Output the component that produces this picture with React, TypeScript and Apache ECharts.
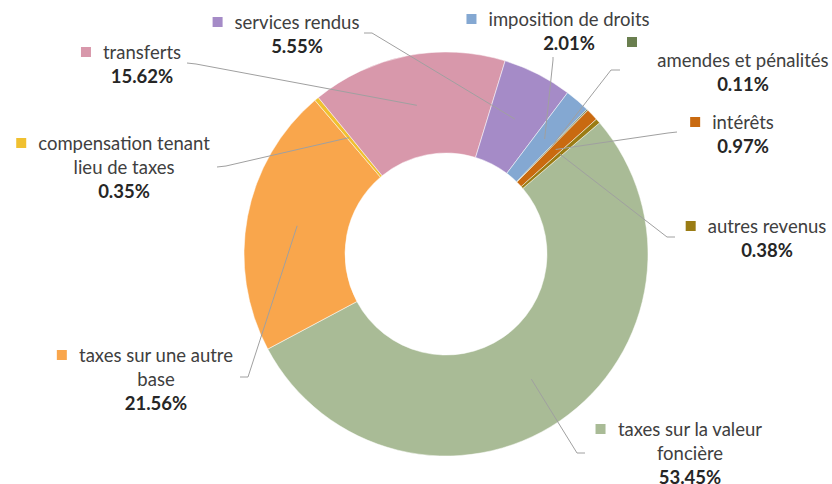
import React, { useEffect, useRef } from "react";
import * as echarts from "echarts";

const categories = [
  "taxes sur la valeur\nfoncière",
  "taxes sur une autre\nbase",
  "compensation tenant\nlieu de taxes",
  "transferts",
  "services rendus",
  "imposition de droits",
  "amendes et pénalités",
  "intérêts",
  "autres revenus",
];
const values = [53.45, 21.56, 0.35, 15.62, 5.55, 2.01, 0.11, 0.97, 0.38];
const colors = [
  "#a9bb96",
  "#f9a64c",
  "#f0c030",
  "#d898ab",
  "#a58bc7",
  "#84a8d2",
  "#6a7f4f",
  "#c96a10",
  "#9a7c14",
];

const CENTER = [446, 254];
const RADII = [101, 202];
const START = 40.5;

// label layout: center x of text, top y, leader line points near label
const labelPos = [
  { cx: 690, top: 417, a: [585, 453], b: [577, 453] },
  { cx: 156, top: 343, a: [240, 377], b: [248, 377] },
  { cx: 124, top: 131, a: [217, 167], b: [226, 166] },
  { cx: 142, top: 40, a: [187, 63], b: [196, 64] },
  { cx: 297, top: 10, a: [364, 33], b: [372, 33] },
  { cx: 569, top: 7, a: [553, 57], b: [553, 60] },
  { cx: 743, top: 36, a: [620, 70], b: [611, 70], markerAbove: true },
  { cx: 743, top: 110, a: [677, 132], b: [668, 133] },
  { cx: 767, top: 214, a: [675, 237], b: [667, 237] },
];

export default function App() {
  const ref = useRef<HTMLDivElement>(null);
  useEffect(() => {
    if (!ref.current) return;
    const chart = echarts.init(ref.current, null, { renderer: "svg" });
    const total = values.reduce((s, v) => s + v, 0);
    const midPoint = (i: number) => {
      let cum = 0;
      for (let k = 0; k < i; k++) cum += values[k];
      const deg = 90 - START + ((cum + values[i] / 2) / total) * 360;
      const rad = (deg * Math.PI) / 180;
      const r = (RADII[0] + RADII[1]) / 2;
      return [CENTER[0] + r * Math.sin(rad), CENTER[1] - r * Math.cos(rad)];
    };
    const FS = 18.5;
    const rich: any = {
      n: { fontSize: FS, color: "#404040", lineHeight: 24, fontFamily: "Lato" },
      p: { fontSize: FS, color: "#262626", lineHeight: 24, fontWeight: "bold", fontFamily: "Lato" },
      gap: { width: 12, fontSize: 10 },
      pad: { width: 22, fontSize: 10 },
      padA: { width: 222, fontSize: 10, lineHeight: 12 },
    };
    colors.forEach((c, i) => {
      rich["sq" + i] = { width: 10, height: 10, backgroundColor: c, fontSize: 10, lineHeight: 12 };
    });
    const data = categories.map((name, i) => ({ name, value: values[i] }));
    chart.setOption({
      animation: false,
      backgroundColor: "#ffffff",
      color: colors,
      series: [
        {
          type: "pie",
          z: 2,
          center: CENTER,
          radius: RADII,
          startAngle: START,
          clockwise: true,
          silent: true,
          itemStyle: { borderColor: "#ffffff", borderWidth: 0.5 },
          label: { show: false },
          labelLine: { show: false },
          data,
        },
        {
          type: "pie",
          z: 5,
          center: CENTER,
          radius: RADII,
          startAngle: START,
          clockwise: true,
          silent: true,
          avoidLabelOverlap: false,
          itemStyle: { color: "rgba(0,0,0,0)", borderWidth: 0 },
          label: {
            show: true,
            position: "outside",
            align: "center",
            fontFamily: "Lato",
            formatter: (params: any) => {
              const i = params.dataIndex;
              const lines = String(params.name).split("\n");
              const pct = "{p|" + values[i].toFixed(2) + "%}";
              let s = "";
              if (labelPos[i].markerAbove) {
                s = "{sq" + i + "| }{padA| }\n" + lines.map((l) => "{n|" + l + "}").join("\n");
              } else {
                s = "{sq" + i + "| }{gap| }{n|" + lines[0] + "}{pad| }";
                for (let k = 1; k < lines.length; k++) s += "\n{n|" + lines[k] + "}";
              }
              return s + "\n" + pct;
            },
            rich,
          },
          labelLine: {
            show: true,
            showAbove: true,
            smooth: false,
            lineStyle: { color: "#a0a0a0", width: 1 },
          },
          labelLayout: (params: any) => {
            const i = params.dataIndex;
            const L = labelPos[i];
            return {
              x: L.cx,
              y: L.top,
              align: "center",
              verticalAlign: "top",
              labelLinePoints: [L.a, L.b, midPoint(i)],
            };
          },
          data,
        },
      ],
    });
    return () => chart.dispose();
  }, []);
  return (
    <div
      ref={ref}
      style={{ position: "fixed", left: 0, top: 0, width: 832, height: 484, background: "#fff" }}
    />
  );
}
